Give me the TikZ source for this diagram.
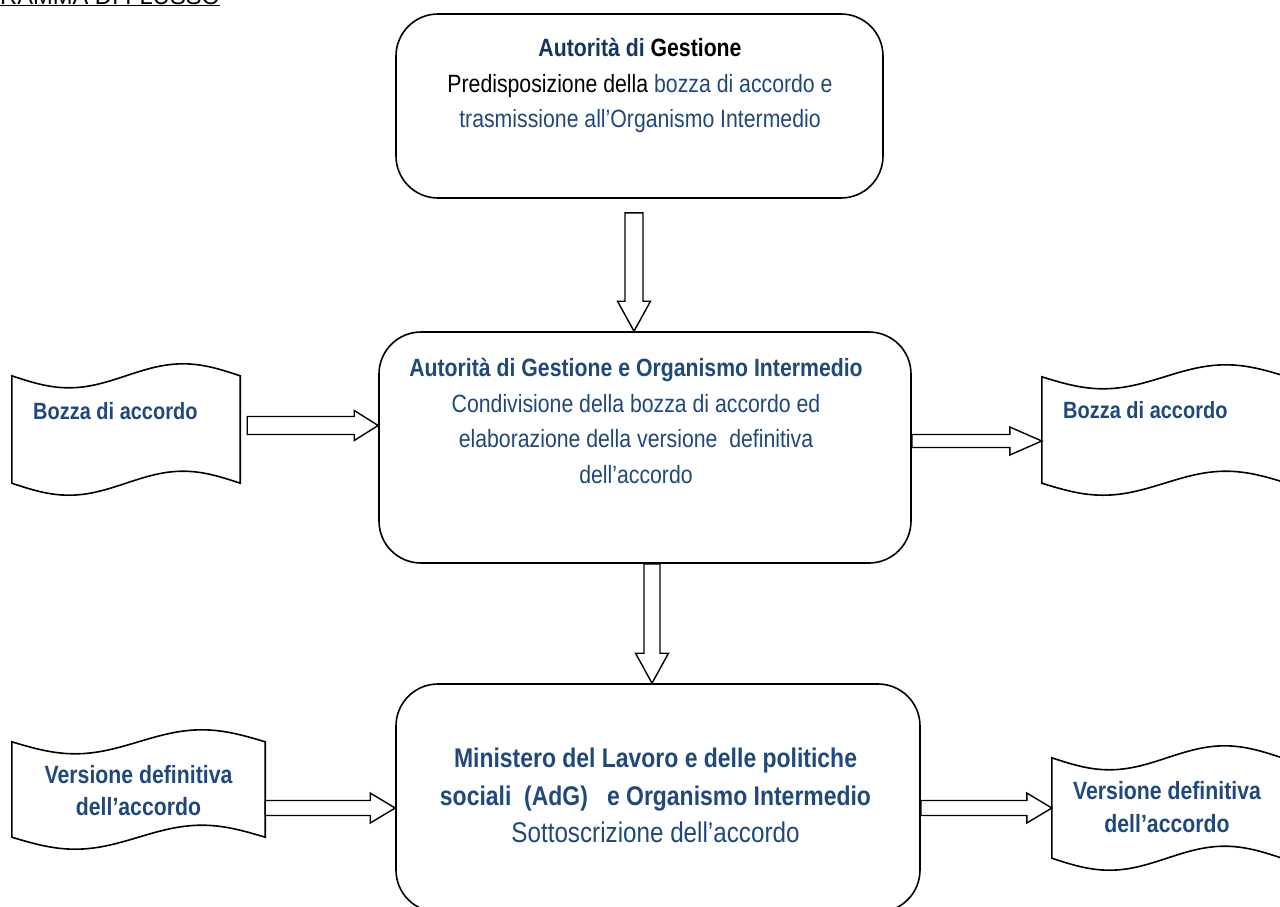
\documentclass[tikz,border=0pt]{standalone}
\usepackage{fontspec}
\setmainfont{Liberation Sans}[FakeStretch=0.85]
\newfontfamily\titlefont{Liberation Sans}
\usetikzlibrary{calc}
\definecolor{tblue}{HTML}{1F497D}
\definecolor{tnavy}{HTML}{17365D}
\tikzset{
  procbox/.style={draw, line width=1.6pt, rounded corners=42pt, inner sep=0pt},
  docbox/.style={draw=none, inner sep=0pt},
  docline/.style={draw, line width=1.6pt, fill=white},
  boxtxt/.style={align=center, anchor=north, inner sep=0pt},
  doctxt/.style={inner sep=0pt, text=tblue, font=\bfseries\fontsize{23.5pt}{28pt}\selectfont},
  harrow/.style n args={3}{draw, line width=1.4pt, fill=white, line join=miter,
    to path={let \p1=(\tikztostart), \p2=(\tikztotarget) in
      (\x1,{\y1+#1}) -- ({\x2-#3},{\y1+#1}) -- ({\x2-#3},{\y1+#2}) -- (\x2,\y1)
      -- ({\x2-#3},{\y1-#2}) -- ({\x2-#3},{\y1-#1}) -- (\x1,{\y1-#1}) -- cycle}},
  varrow/.style n args={3}{draw, line width=1.4pt, fill=white, line join=miter,
    to path={let \p1=(\tikztostart), \p2=(\tikztotarget) in
      ({\x1-#1},\y1) -- ({\x1-#1},{\y2+#3}) -- ({\x1-#2},{\y2+#3}) -- (\x1,\y2)
      -- ({\x1+#2},{\y2+#3}) -- ({\x1+#1},{\y2+#3}) -- ({\x1+#1},\y1) -- cycle}}
}
\newcommand\wavedoc[1]{%
  \draw[docline] let \p1=(#1.north west), \p2=(#1.south east), \n1={(\x2-\x1)/4} in
    (\x1,\y1) sin ({\x1+\n1},{\y1-12pt}) cos ({\x1+2*\n1},\y1)
    sin ({\x1+3*\n1},{\y1+12pt}) cos (\x2,\y1) -- (\x2,\y2)
    sin ({\x2-\n1},{\y2+12pt}) cos ({\x2-2*\n1},\y2)
    sin ({\x2-3*\n1},{\y2-12pt}) cos (\x1,\y2) -- cycle;}
\begin{document}
\begin{tikzpicture}[x=1pt,y=-1pt]
\fill[white] (0,0) rectangle (1280,906);
\useasboundingbox (0,0) rectangle (1280,906);

% title
\node[anchor=base west, inner sep=0pt, font=\titlefont\fontsize{23.7pt}{28pt}\selectfont] (title) at (0,4) {\underline{RAMMA DI FLUSSO}};

% process boxes
\node[procbox, minimum width=487pt, minimum height=184pt] (top) at (639.5,106) {};
\node[procbox, minimum width=532pt, minimum height=231pt] (mid) at (645,447.5) {};
\node[procbox, minimum width=524pt, minimum height=228pt] (bot) at (658,798) {};

\node[boxtxt, font=\fontsize{25pt}{35.5pt}\selectfont] (toptxt) at (640,38)
  {{\bfseries\color{tnavy}Autorità di} \textbf{Gestione}\\
   Predisposizione della \textcolor{tblue}{bozza di accordo e}\\
   \textcolor{tblue}{trasmissione all’Organismo Intermedio}};
\node[boxtxt, text=tblue, font=\fontsize{25pt}{35.5pt}\selectfont] (midtxt) at (636,358)
  {\textbf{Autorità di Gestione e Organismo Intermedio}\\
   Condivisione della bozza di accordo ed\\
   elaborazione della versione\ \ definitiva\\
   dell’accordo};
\node[boxtxt, text=tblue, font=\bfseries\fontsize{27pt}{37.5pt}\selectfont] (bottxt) at (655.5,748)
  {Ministero del Lavoro e delle politiche\\
   sociali\ \ (AdG)\ \ \ e Organismo Intermedio\\
   {\mdseries\fontsize{28.5pt}{37.5pt}\selectfont Sottoscrizione dell’accordo}};

% documents
\node[docbox, minimum width=228pt, minimum height=107pt] (d1) at (126,429.5) {};
\node[docbox, minimum width=245pt, minimum height=106pt] (d2) at (1164.5,430) {};
\node[docbox, minimum width=253pt, minimum height=95pt] (d3) at (138.5,789.5) {};
\node[docbox, minimum width=230pt, minimum height=100pt] (d4) at (1167,808) {};
\wavedoc{d1}
\wavedoc{d2}
\wavedoc{d3}
\wavedoc{d4}
\node[doctxt, anchor=base west] (d1t) at (33,419) {Bozza di accordo};
\node[doctxt, anchor=base west] (d2t) at (1063,418) {Bozza di accordo};
\node[doctxt, align=center, anchor=north, font=\bfseries\fontsize{25pt}{32pt}\selectfont] (d3t) at (138.5,765) {Versione definitiva\\dell’accordo};
\node[doctxt, align=center, anchor=north, font=\bfseries\fontsize{25pt}{33pt}\selectfont] (d4t) at (1167,781) {Versione definitiva\\dell’accordo};

% block arrows
\draw[varrow={9pt}{16.5pt}{30pt}] ([xshift=-5.5pt,yshift=-14pt]top.south) to (mid.north);
\draw[varrow={8pt}{16.5pt}{30pt}] ([xshift=7pt]mid.south) to (bot.north);
\draw[harrow={9pt}{15pt}{24pt}] ([xshift=7pt,yshift=4pt]d1.east) to (mid.west);
\draw[harrow={6.5pt}{14pt}{32pt}] ([yshift=6.5pt]mid.east) to (d2.west);
\draw[harrow={7.5pt}{15pt}{25pt}] ([yshift=-18.5pt]d3.east) to (bot.west);
\draw[harrow={7.5pt}{15pt}{25pt}] ([yshift=-10pt]bot.east) to (d4.west);
\end{tikzpicture}
\end{document}
